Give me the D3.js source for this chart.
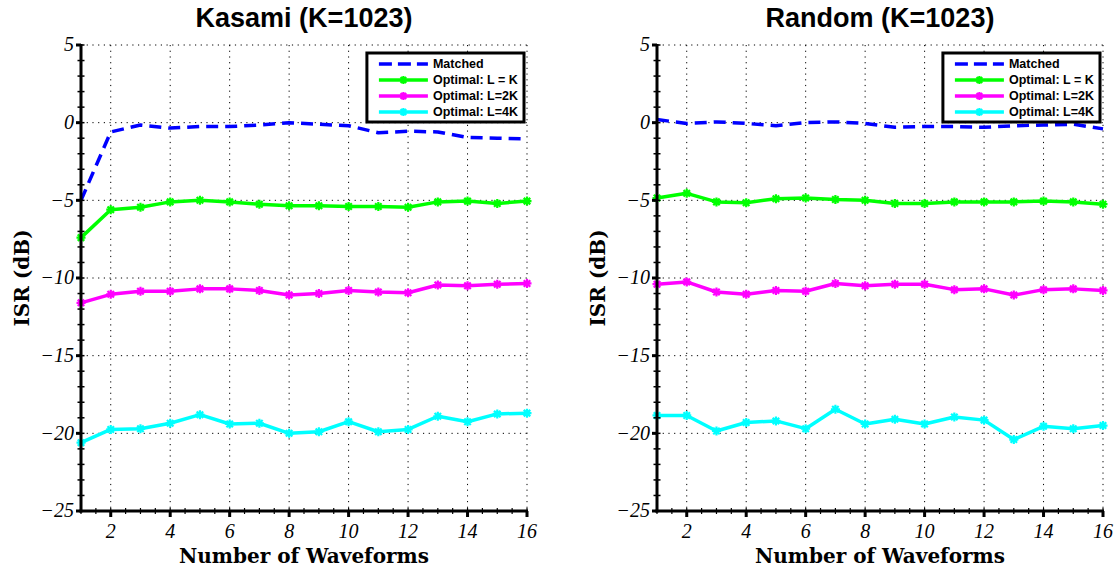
<!DOCTYPE html>
<html>
<head>
<meta charset="utf-8">
<script src="https://cdn.jsdelivr.net/npm/d3@7"></script>
<style>
  body { margin: 0; background: #fff; }
  svg { display: block; }
</style>
</head>
<body>
<div id="chart"></div>
<script>
// x values: number of waveforms
const waveforms = [1, 2, 3, 4, 5, 6, 7, 8, 9, 10, 11, 12, 13, 14, 15, 16];

// Kasami (K=1023), ISR in dB
const kasamiMatched = [-5.0, -0.6, -0.15, -0.35, -0.25, -0.25, -0.15, 0.0, -0.1, -0.2, -0.65, -0.55, -0.6, -0.95, -1.0, -1.05];
const kasamiL1 = [-7.4, -5.6, -5.45, -5.1, -5.0, -5.1, -5.25, -5.35, -5.35, -5.4, -5.4, -5.45, -5.1, -5.05, -5.2, -5.05];
const kasamiL2 = [-11.6, -11.05, -10.85, -10.85, -10.7, -10.7, -10.8, -11.1, -11.0, -10.8, -10.9, -10.95, -10.45, -10.5, -10.4, -10.35];
const kasamiL4 = [-20.6, -19.75, -19.7, -19.35, -18.8, -19.4, -19.35, -20.0, -19.9, -19.25, -19.9, -19.75, -18.9, -19.25, -18.75, -18.7];

// Random (K=1023), ISR in dB
const randomMatched = [0.2, -0.05, 0.05, -0.05, -0.2, 0.0, 0.05, -0.05, -0.3, -0.25, -0.25, -0.3, -0.2, -0.15, -0.1, -0.4];
const randomL1 = [-4.85, -4.55, -5.1, -5.15, -4.9, -4.85, -4.95, -5.0, -5.2, -5.2, -5.1, -5.1, -5.1, -5.05, -5.1, -5.25];
const randomL2 = [-10.4, -10.25, -10.9, -11.05, -10.8, -10.85, -10.35, -10.5, -10.4, -10.4, -10.75, -10.7, -11.1, -10.75, -10.7, -10.8];
const randomL4 = [-18.85, -18.85, -19.85, -19.3, -19.2, -19.7, -18.45, -19.4, -19.1, -19.4, -18.95, -19.15, -20.4, -19.55, -19.7, -19.5];

const seriesNames = ["Matched", "Optimal: L = K", "Optimal: L=2K", "Optimal: L=4K"];
const seriesColors = ["#0000ff", "#00ff00", "#ff00ff", "#00ffff"];
const xTicks = [2, 4, 6, 8, 10, 12, 14, 16];
const yTicks = [-25, -20, -15, -10, -5, 0, 5];

const panels = [
    { title: "Kasami (K=1023)", left: 81, series: [kasamiMatched, kasamiL1, kasamiL2, kasamiL4] },
    { title: "Random (K=1023)", left: 657, series: [randomMatched, randomL1, randomL2, randomL4] }
];

const W = 1120, H = 569;
const plotW = 446, plotTop = 45, plotBottom = 511;

const svg = d3.select("#chart").append("svg")
    .attr("width", W)
    .attr("height", H);

panels.forEach(p => drawPanel(p));

function drawPanel(p) {
    const g = svg.append("g").attr("transform", `translate(${p.left},0)`);

    const x = d3.scaleLinear().domain([1, 16]).range([0, plotW]);
    const y = d3.scaleLinear().domain([-25, 5]).range([plotBottom, plotTop]);

    // dotted grid + dotted top/right border
    const grid = g.append("g")
        .attr("stroke", "#000")
        .attr("stroke-width", 1)
        .attr("stroke-dasharray", "1.2,4.5");
    xTicks.forEach(t => {
        grid.append("line").attr("x1", x(t)).attr("x2", x(t)).attr("y1", y(5)).attr("y2", y(-25));
    });
    yTicks.forEach(t => {
        grid.append("line").attr("x1", x(1)).attr("x2", x(16)).attr("y1", y(t)).attr("y2", y(t));
    });

    // data lines
    const line = d3.line()
        .x((d, i) => x(waveforms[i]))
        .y(d => y(d));

    p.series.forEach((vals, si) => {
        const path = g.append("path")
            .datum(vals)
            .attr("fill", "none")
            .attr("stroke", seriesColors[si])
            .attr("stroke-width", 3.5)
            .attr("stroke-linejoin", "round")
            .attr("d", line);
        if (si === 0) {
            path.attr("stroke-dasharray", "12,7");
        } else {
            g.append("g").selectAll("path")
                .data(vals)
                .join("path")
                .attr("transform", (d, i) => `translate(${x(waveforms[i])},${y(d)})`)
                .attr("d", starPath(4.5))
                .attr("stroke", seriesColors[si])
                .attr("stroke-width", 2.2)
                .attr("fill", "none");
        }
    });

    // left axis
    const yAxis = g.append("g").attr("transform", `translate(${x(1)},0)`);
    yAxis.append("line")
        .attr("y1", y(5) - 1).attr("y2", y(-25) + 1.5)
        .attr("stroke", "#000").attr("stroke-width", 3);
    d3.range(-25, 6, 1).forEach(t => {
        yAxis.append("line")
            .attr("x1", -3.5).attr("x2", 3.5)
            .attr("y1", y(t)).attr("y2", y(t))
            .attr("stroke", "#000").attr("stroke-width", 1.5);
    });
    yTicks.forEach(t => {
        yAxis.append("line")
            .attr("x1", -5).attr("x2", 0)
            .attr("y1", y(t)).attr("y2", y(t))
            .attr("stroke", "#000").attr("stroke-width", 3);
        yAxis.append("text")
            .attr("x", -7)
            .attr("y", y(t))
            .attr("dy", "0.32em")
            .attr("text-anchor", "end")
            .style("font-family", "'Liberation Serif', 'Times New Roman', serif")
            .style("font-style", "italic")
            .style("font-size", "20px")
            .text(t < 0 ? "\u2212" + Math.abs(t) : t);
    });

    // bottom axis
    const xAxis = g.append("g").attr("transform", `translate(0,${y(-25)})`);
    xAxis.append("line")
        .attr("x1", x(1) - 1.5).attr("x2", x(16) + 1)
        .attr("stroke", "#000").attr("stroke-width", 3);
    d3.range(1, 16.5, 0.5).forEach(t => {
        xAxis.append("line")
            .attr("x1", x(t)).attr("x2", x(t))
            .attr("y1", -3).attr("y2", 3)
            .attr("stroke", "#000").attr("stroke-width", 1.2);
    });
    xTicks.forEach(t => {
        xAxis.append("line")
            .attr("x1", x(t)).attr("x2", x(t))
            .attr("y1", 0).attr("y2", 6)
            .attr("stroke", "#000").attr("stroke-width", 3);
        xAxis.append("text")
            .attr("x", x(t))
            .attr("y", 27)
            .attr("text-anchor", "middle")
            .style("font-family", "'Liberation Serif', 'Times New Roman', serif")
            .style("font-style", "italic")
            .style("font-size", "20px")
            .text(t);
    });

    // axis labels
    g.append("text")
        .attr("x", plotW / 2)
        .attr("y", 563)
        .attr("text-anchor", "middle")
        .style("font-family", "'DejaVu Serif', serif")
        .style("font-weight", "bold")
        .style("font-size", "20px")
        .text("Number of Waveforms");

    g.append("text")
        .attr("transform", `translate(-52,${(plotTop + plotBottom) / 2}) rotate(-90)`)
        .attr("text-anchor", "middle")
        .style("font-family", "'DejaVu Serif', serif")
        .style("font-weight", "bold")
        .style("font-size", "20px")
        .text("ISR (dB)");

    // title
    g.append("text")
        .attr("x", plotW / 2)
        .attr("y", 27)
        .attr("text-anchor", "middle")
        .style("font-family", "'Liberation Sans', Arial, sans-serif")
        .style("font-weight", "bold")
        .style("font-size", "27px")
        .text(p.title);

    drawLegend(g, x, y);
}

function drawLegend(g, x, y) {
    const lg = g.append("g");
    const rowH = 16;
    const texts = lg.selectAll("text")
        .data(seriesNames)
        .join("text")
        .attr("y", (d, i) => 11 + i * rowH)
        .attr("dy", "0.35em")
        .style("font-family", "'Liberation Sans', Arial, sans-serif")
        .style("font-weight", "bold")
        .style("font-size", "12.5px")
        .text(d => d);
    let maxW = 0;
    texts.each(function () { maxW = Math.max(maxW, this.getComputedTextLength()); });
    const textX = 66;
    const boxW = textX + maxW + 6;
    const boxH = 69;
    const bx = x(16) - 3 - boxW, by = plotTop + 8;
    lg.attr("transform", `translate(${bx},${by})`);
    texts.attr("x", textX);

    lg.insert("rect", "text")
        .attr("width", boxW).attr("height", boxH)
        .attr("fill", "#fff")
        .attr("stroke", "#000")
        .attr("stroke-width", 3);

    seriesNames.forEach((name, i) => {
        const ly = 11 + i * rowH;
        const l = lg.append("line")
            .attr("x1", 12).attr("x2", 61)
            .attr("y1", ly).attr("y2", ly)
            .attr("stroke", seriesColors[i])
            .attr("stroke-width", 3.5);
        if (i === 0) {
            l.attr("stroke-dasharray", "13,6");
        } else {
            lg.append("path")
                .attr("transform", `translate(36.5,${ly})`)
                .attr("d", starPath(4))
                .attr("stroke", seriesColors[i])
                .attr("stroke-width", 2.2)
                .attr("fill", "none");
        }
    });
}

// asterisk marker: plus + cross
function starPath(r) {
    const d = r * 0.72;
    return `M${-r},0L${r},0M0,${-r}L0,${r}M${-d},${-d}L${d},${d}M${-d},${d}L${d},${-d}`;
}
</script>
</body>
</html>
